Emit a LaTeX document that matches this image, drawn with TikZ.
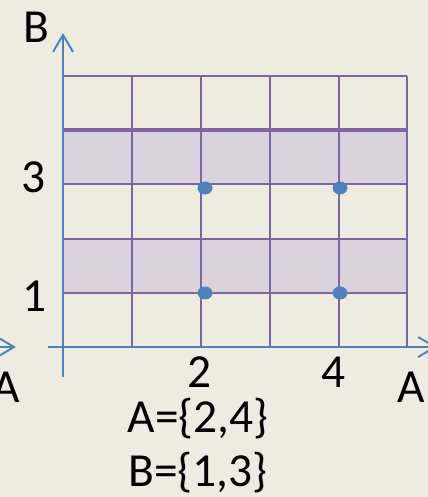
\documentclass[tikz,border=0pt]{standalone}
\usepackage{fontspec}
\setmainfont{Carlito}
\usetikzlibrary{arrows.meta,shapes.geometric}
\definecolor{bgcol}{RGB}{238,236,225}
\definecolor{gridcol}{RGB}{128,100,162}
\definecolor{bandcol}{RGB}{218,210,220}
\definecolor{axiscol}{RGB}{79,129,189}

\begin{document}
\begin{tikzpicture}[x=0.02cm,y=-0.02cm,
    axisline/.style={draw=axiscol,line width=1.1pt,-{Straight Barb[length=3.4mm,width=4mm]}},
    gridline/.style={draw=gridcol,line width=1.7pt},
    lbl/.style={font=\fontsize{27}{31}\selectfont,inner sep=0pt,anchor=base},
    dotpt/.style={ellipse,fill=axiscol,inner sep=0pt,minimum width=0.3cm,minimum height=0.26cm}]
  \fill[bgcol] (0,0) rectangle (428,497);
  \useasboundingbox (0,0) rectangle (428,497);
  % shaded rows
  \fill[bandcol] (63,130) rectangle (407,184);
  \fill[bandcol] (63,239) rectangle (407,293);
  % grid
  \foreach \x in {63,132,201,270,339,407}
    \draw[gridline] (\x,76) -- (\x,347);
  \foreach \y in {76,184,239,293,347}
    \draw[gridline] (63,\y) -- (407,\y);
  \draw[gridline,line width=2.8pt] (63,130) -- (407,130);
  % axes
  \coordinate (Bbot) at (63,377);
  \coordinate (Btop) at (63,33);
  \coordinate (Aleft) at (48,347);
  \coordinate (Aright) at (437,347);
  \coordinate (Aprev) at (-10,347);
  \coordinate (Aprevtip) at (16,347);
  \draw[axisline] (Bbot) -- (Btop);
  \draw[axisline] (Aleft) -- (Aright);
  \draw[axisline] (Aprev) -- (Aprevtip);
  % points
  \node[dotpt] (d23) at (205,188) {};
  \node[dotpt] (d43) at (340,188) {};
  \node[dotpt] (d21) at (205,293) {};
  \node[dotpt] (d41) at (340,293) {};
  % labels
  \node[lbl] (labB) at (36,42) {B};
  \node[lbl] (lab3) at (34,192) {3};
  \node[lbl] (lab1) at (35,311) {1};
  \node[lbl] (lab2) at (200,387) {2};
  \node[lbl] (lab4) at (334,387) {4};
  \node[lbl] (labAl) at (6,402) {A};
  \node[lbl] (labAr) at (411,402) {A};
  \node[lbl] (setA) at (198,432) {A=\{2,4\}};
  \node[lbl] (setB) at (198,486) {B=\{1,3\}};
\end{tikzpicture}
\end{document}
